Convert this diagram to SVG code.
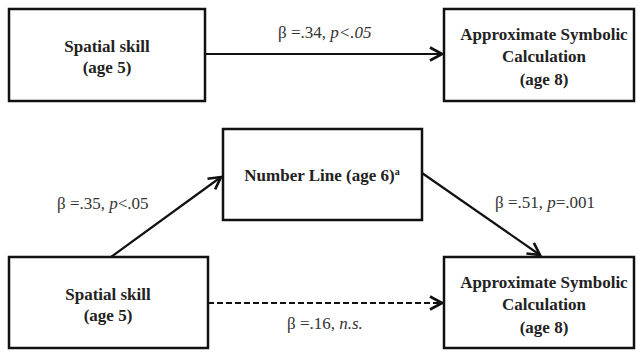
<svg xmlns="http://www.w3.org/2000/svg" width="638" height="352" viewBox="0 0 638 352">
<style>
.box{fill:#fff;stroke:#111;stroke-width:2.5}
.t{font-family:"Liberation Serif","Times New Roman",serif;font-weight:bold;font-size:17px;fill:#222;text-anchor:middle}
.l{font-family:"Liberation Serif","Times New Roman",serif;font-size:17px;fill:#333}
.c{stroke:#111;stroke-width:2.2;fill:none}
.d{stroke-dasharray:6 3}
</style>
<defs>
<marker id="ah" markerWidth="16" markerHeight="16" viewBox="0 0 16 16" refX="14" refY="8" orient="auto" markerUnits="userSpaceOnUse">
<path d="M2,1.5 L14,8 L2,14.5" fill="none" stroke="#111" stroke-width="2.6"/>
</marker>
</defs>
<rect width="638" height="352" fill="#fff"/>
<g id="connectors">
<line class="c" x1="205" y1="54" x2="442" y2="54" marker-end="url(#ah)"/>
<line class="c" x1="111" y1="257" x2="221" y2="177" marker-end="url(#ah)"/>
<line class="c" x1="422" y1="173" x2="540" y2="255" marker-end="url(#ah)"/>
<line class="c d" x1="208" y1="303" x2="442" y2="303" marker-end="url(#ah)"/>
</g>
<g id="spatial1">
<rect class="box" x="9" y="9" width="196" height="92"/>
<text class="t" x="107" y="52">Spatial skill</text>
<text class="t" x="107" y="73">(age 5)</text>
</g>
<g id="asc1">
<rect class="box" x="444" y="9" width="190" height="92"/>
<text class="t" x="544" y="40">Approximate Symbolic</text>
<text class="t" x="544" y="62">Calculation</text>
<text class="t" x="544" y="85">(age 8)</text>
</g>
<g id="numberline">
<rect class="box" x="223" y="129" width="199" height="91"/>
<text class="t" x="322" y="181">Number Line (age 6)<tspan font-size="10" dy="-6">a</tspan></text>
</g>
<g id="spatial2">
<rect class="box" x="9" y="257" width="199" height="91"/>
<text class="t" x="108" y="300">Spatial skill</text>
<text class="t" x="108" y="321">(age 5)</text>
</g>
<g id="asc2">
<rect class="box" x="444" y="257" width="190" height="91"/>
<text class="t" x="544" y="288">Approximate Symbolic</text>
<text class="t" x="544" y="310">Calculation</text>
<text class="t" x="544" y="333">(age 8)</text>
</g>
<g id="labels">
<text class="l" x="278" y="38">β =.34, <tspan font-style="italic">p&lt;.05</tspan></text>
<text class="l" x="57" y="209">β =.35, <tspan font-style="italic">p</tspan>&lt;.05</text>
<text class="l" x="495" y="208">β =.51, <tspan font-style="italic">p</tspan>=.001</text>
<text class="l" x="287" y="329">β =.16, <tspan font-style="italic">n.s.</tspan></text>
</g>
</svg>
